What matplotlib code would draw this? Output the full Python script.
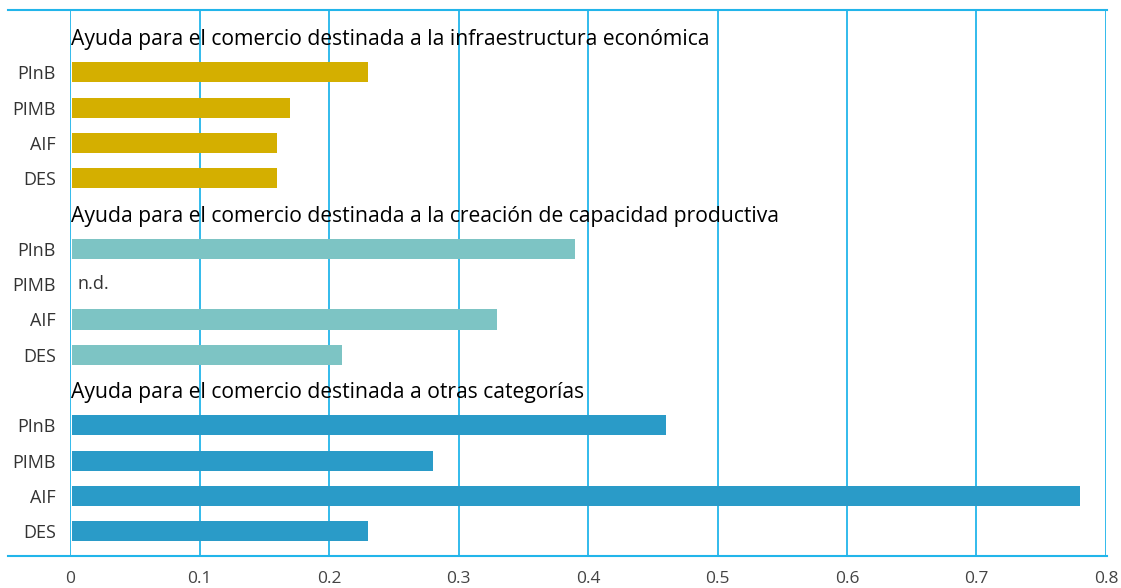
import matplotlib
matplotlib.use('Agg')
import matplotlib.pyplot as plt
from matplotlib.lines import Line2D

plt.rcParams['font.family'] = ['Open Sans', 'DejaVu Sans']

headings = ['Ayuda para el comercio destinada a la infraestructura económica',
            'Ayuda para el comercio destinada a la creación de capacidad productiva',
            'Ayuda para el comercio destinada a otras categorías']
groups = ['PInB', 'PIMB', 'AIF', 'DES']
infra = [0.23, 0.17, 0.16, 0.16]
capacidad = [0.39, None, 0.33, 0.21]   # PIMB: n.d.
otras = [0.46, 0.28, 0.78, 0.23]
xticks = [0, 0.1, 0.2, 0.3, 0.4, 0.5, 0.6, 0.7, 0.8]

colors = ['#D4AF00', '#7DC4C4', '#2A9BC8']
line_col = '#22B5EA'

fig = plt.figure(figsize=(11.21, 5.88), dpi=100)
W, H = 1121, 588
ax = fig.add_axes([70 / W, 32 / H, 1036 / W, 546 / H])

ytick_pos, ytick_lab = [], []
for g, (head, vals, col) in enumerate(zip(headings, [infra, capacidad, otras], colors)):
    base = g * 5
    ax.text(0.0005, base + 0.08, head, fontsize=15.2, color='black', va='center', ha='left')
    for i, (lab, v) in enumerate(zip(groups, vals)):
        y = base + 1 + i
        ytick_pos.append(y)
        ytick_lab.append(lab)
        if v is None:
            ax.text(0.006, y, 'n.d.', fontsize=13, color='#333333', va='center', ha='left')
        else:
            ax.barh(y, v - 0.0015, left=0.0015, height=0.57, color=col)

ax.set_xlim(0, 0.8)
ax.set_ylim(14.70, -0.765)
ax.set_xticks(xticks)
ax.set_xticklabels([f'{t:g}' for t in xticks], fontsize=12.5, color='#444444')
ax.set_yticks(ytick_pos)
ax.set_yticklabels(ytick_lab, fontsize=13, color='#333333')
ax.tick_params(axis='y', length=0, pad=10)
ax.tick_params(axis='x', length=0, pad=11)
for s in ax.spines.values():
    s.set_visible(False)
ax.grid(axis='x', color=line_col, linewidth=1.3)
ax.set_axisbelow(True)

# frame lines extending left of the axes
for yy in (10, 556):
    fig.add_artist(Line2D([8 / W, 1107 / W], [1 - yy / H, 1 - yy / H],
                          color=line_col, linewidth=1.5))

fig.savefig('out.png', dpi=100)
